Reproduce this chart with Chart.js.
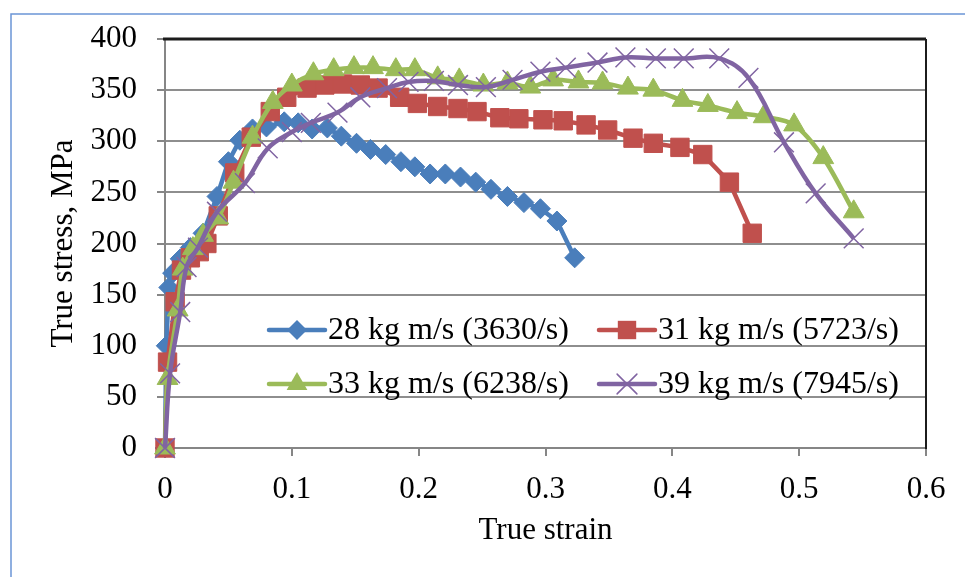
<!DOCTYPE html>
<html>
<head>
<meta charset="utf-8">
<script src="https://cdn.jsdelivr.net/npm/chart.js@4.4.1/dist/chart.umd.min.js"></script>
<style>
  html, body { margin: 0; padding: 0; background: #fff; }
  #wrap { width: 965px; height: 577px; position: relative; }
</style>
</head>
<body>
<div id="wrap"><canvas id="chart" width="965" height="577"></canvas></div>
<script>
// strain / stress values
const strain28 = [0, 0.001, 0.003, 0.006, 0.012, 0.020, 0.030, 0.041, 0.050, 0.059, 0.069, 0.080, 0.094, 0.105, 0.116, 0.128, 0.139, 0.151, 0.162, 0.174, 0.186, 0.197, 0.209, 0.221, 0.233, 0.245, 0.257, 0.270, 0.283, 0.296, 0.309, 0.323];
const stress28 = [0, 100, 157, 171, 185, 196, 210, 246, 280, 301, 312, 314, 319, 318, 312, 313, 305, 298, 292, 287, 280, 275, 268, 268, 265, 260, 253, 246, 240, 234, 222, 186];

const strain31 = [0, 0.002, 0.008, 0.013, 0.020, 0.027, 0.033, 0.042, 0.055, 0.068, 0.083, 0.096, 0.112, 0.126, 0.140, 0.154, 0.168, 0.185, 0.199, 0.215, 0.231, 0.246, 0.264, 0.279, 0.298, 0.314, 0.332, 0.349, 0.369, 0.385, 0.406, 0.424, 0.445, 0.463];
const stress31 = [0, 84, 143, 174, 186, 192, 200, 227, 269, 304, 329, 343, 352, 355, 356, 355, 352, 343, 337, 334, 332, 329, 323, 322, 321, 320, 316, 311, 303, 298, 294, 287, 260, 210];

const strain33 = [0, 0.002, 0.010, 0.014, 0.022, 0.030, 0.042, 0.054, 0.069, 0.085, 0.100, 0.117, 0.133, 0.149, 0.164, 0.182, 0.197, 0.215, 0.232, 0.251, 0.270, 0.288, 0.306, 0.326, 0.345, 0.365, 0.385, 0.408, 0.428, 0.451, 0.472, 0.496, 0.519, 0.543];
const stress33 = [0, 68, 135, 175, 195, 208, 225, 260, 304, 338, 355, 366, 370, 372, 372, 370, 370, 362, 360, 355, 357, 353, 360, 358, 357, 352, 350, 340, 335, 328, 324, 316, 284, 231];

const strain39 = [0, 0.004, 0.012, 0.017, 0.026, 0.041, 0.063, 0.081, 0.100, 0.115, 0.136, 0.154, 0.175, 0.192, 0.212, 0.231, 0.253, 0.274, 0.296, 0.316, 0.341, 0.363, 0.387, 0.409, 0.437, 0.460, 0.488, 0.513, 0.543];
const stress39 = [0, 73, 133, 177, 196, 231, 259, 293, 309, 318, 328, 343, 352, 358, 359, 355, 353, 360, 368, 372, 377, 382, 381, 381, 381, 362, 299, 249, 205];

const seriesNames = ["28 kg m/s (3630/s)", "31 kg m/s (5723/s)", "33 kg m/s (6238/s)", "39 kg m/s (7945/s)"];
const xTickLabels = ["0", "0.1", "0.2", "0.3", "0.4", "0.5", "0.6"];
const yTickLabels = ["0", "50", "100", "150", "200", "250", "300", "350", "400"];

const FONT = "'Liberation Serif', 'Times New Roman', serif";
const colors = ["#4a7ebb", "#c0504d", "#9bbb59", "#8064a2"];
const markers = [
  { style: "rectRot", r: 10 },
  { style: "rect", r: 13 },
  { style: "triangle", r: 12 },
  { style: "crossRot", r: 14 },
];

function toPoints(xs, ys) {
  return xs.map((x, i) => ({ x: x, y: ys[i] }));
}

function makeSet(i, xs, ys, tension) {
  return {
    label: seriesNames[i],
    data: toPoints(xs, ys),
    borderColor: colors[i],
    backgroundColor: colors[i],
    borderWidth: 4.5,
    pointStyle: markers[i].style,
    pointRadius: markers[i].r,
    pointHoverRadius: markers[i].r,
    pointBorderWidth: markers[i].style === "crossRot" ? 1.5 : 1,
    pointBorderColor: colors[i],
    pointBackgroundColor: colors[i],
    tension: tension,
    clip: false,
    order: 3 - i, // later series drawn on top, like the original
  };
}

// own marker drawing for the legend
function drawMarker(ctx, style, x, y, r, color) {
  ctx.save();
  ctx.fillStyle = color;
  ctx.strokeStyle = color;
  ctx.lineWidth = 1.5;
  ctx.beginPath();
  if (style === "rect") {
    const s = r * Math.SQRT1_2;
    ctx.rect(x - s, y - s, 2 * s, 2 * s);
    ctx.fill();
  } else if (style === "rectRot") {
    ctx.moveTo(x - r, y); ctx.lineTo(x, y - r); ctx.lineTo(x + r, y); ctx.lineTo(x, y + r);
    ctx.closePath(); ctx.fill();
  } else if (style === "triangle") {
    ctx.moveTo(x, y - r); ctx.lineTo(x + 0.866 * r, y + 0.5 * r); ctx.lineTo(x - 0.866 * r, y + 0.5 * r);
    ctx.closePath(); ctx.fill();
  } else {
    const d = r * Math.SQRT1_2;
    ctx.moveTo(x - d, y - d); ctx.lineTo(x + d, y + d);
    ctx.moveTo(x + d, y - d); ctx.lineTo(x - d, y + d);
    ctx.stroke();
  }
  ctx.restore();
}

const framePlugin = {
  id: "frame",
  beforeDraw(chart) {
    const ctx = chart.ctx;
    ctx.save();
    ctx.fillStyle = "#fff";
    ctx.fillRect(0, 0, chart.width, chart.height);
    ctx.strokeStyle = "#6b95d6";
    ctx.lineWidth = 1.5;
    ctx.strokeRect(11, 14, 1100, 700);
    ctx.restore();
  },
  beforeDatasetsDraw(chart) {
    const { ctx, chartArea } = chart;
    ctx.save();
    ctx.strokeStyle = "#1c1c1c";
    ctx.lineWidth = 3;
    ctx.beginPath();
    ctx.moveTo(chartArea.left - 2, chartArea.top);
    ctx.lineTo(chartArea.right, chartArea.top);
    ctx.stroke();
    ctx.lineWidth = 2;
    ctx.beginPath();
    ctx.moveTo(chartArea.right, chartArea.top);
    ctx.lineTo(chartArea.right, chartArea.bottom + 1);
    ctx.stroke();
    ctx.restore();
  },
  afterDraw(chart) {
    // two-row legend sitting inside the plot
    const ctx = chart.ctx;
    const slots = [
      { x: 269, y: 330 }, { x: 599, y: 330 },
      { x: 269, y: 384 }, { x: 599, y: 384 },
    ];
    ctx.save();
    ctx.font = "32px " + FONT;
    ctx.textBaseline = "middle";
    ctx.textAlign = "left";
    slots.forEach((s, i) => {
      ctx.strokeStyle = colors[i];
      ctx.lineWidth = 4.5;
      ctx.lineCap = "round";
      ctx.beginPath();
      ctx.moveTo(s.x, s.y);
      ctx.lineTo(s.x + 56, s.y);
      ctx.stroke();
      drawMarker(ctx, markers[i].style, s.x + 28, s.y, markers[i].r, colors[i]);
      ctx.fillStyle = "#000";
      ctx.fillText(seriesNames[i], s.x + 59, s.y + 1);
    });
    ctx.restore();
  },
};

new Chart(document.getElementById("chart"), {
  type: "line",
  data: {
    datasets: [
      makeSet(0, strain28, stress28, 0),
      makeSet(1, strain31, stress31, 0),
      makeSet(2, strain33, stress33, 0.3),
      makeSet(3, strain39, stress39, 0.4),
    ],
  },
  options: {
    responsive: false,
    animation: false,
    devicePixelRatio: 1,
    layout: { padding: { left: 0, top: 39, right: 39, bottom: 0 } },
    plugins: { legend: { display: false }, tooltip: { enabled: false } },
    scales: {
      x: {
        type: "linear",
        min: 0,
        max: 0.6,
        ticks: {
          stepSize: 0.1,
          padding: 15,
          color: "#000",
          font: { family: FONT, size: 31, lineHeight: 1.2 },
          callback: (v) => xTickLabels[Math.round(v * 10)],
        },
        grid: { drawOnChartArea: false, drawTicks: true, tickLength: 8, tickColor: "#868686", lineWidth: 2 },
        border: { color: "#868686", width: 2 },
        title: {
          display: true,
          text: "True strain",
          color: "#000",
          font: { family: FONT, size: 31, lineHeight: 1.2 },
          padding: { top: 0, bottom: 28 },
        },
        afterFit: (scale) => { scale.height = 129; },
      },
      y: {
        min: 0,
        max: 400,
        ticks: {
          stepSize: 50,
          padding: 20,
          color: "#000",
          font: { family: FONT, size: 31, lineHeight: 1.2 },
          callback: (v) => yTickLabels[Math.round(v / 50)],
        },
        grid: { color: "#8e8e8e", lineWidth: 2, drawTicks: true, tickLength: 8, tickColor: "#868686" },
        border: { color: "#868686", width: 2 },
        title: {
          display: true,
          text: "True stress, MPa",
          color: "#000",
          font: { family: FONT, size: 31, lineHeight: 1.2 },
          padding: { top: 45, bottom: 0 },
        },
        afterFit: (scale) => { scale.width = 165; },
      },
    },
  },
  plugins: [framePlugin],
});
</script>
</body>
</html>
